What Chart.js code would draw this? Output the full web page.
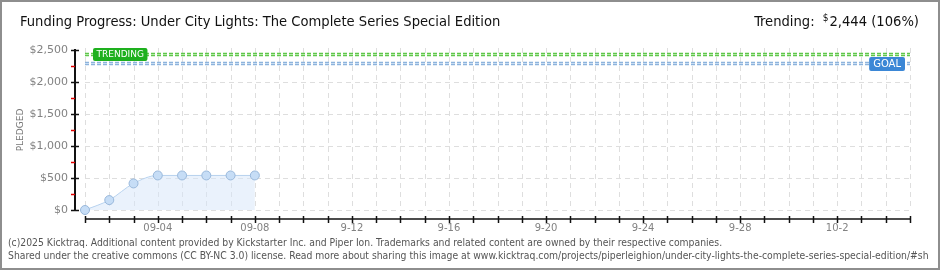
<!DOCTYPE html>
<html>
<head>
<meta charset="utf-8">
<script src="https://cdn.jsdelivr.net/npm/chart.js@4.4.1/dist/chart.umd.min.js"></script>
<style>
  html, body { margin: 0; padding: 0; background: #fff; }
  #wrap { position: relative; width: 940px; height: 270px; overflow: hidden; background: #fff; }
  #chart { position: absolute; left: 0; top: 0; }
  #frame { position: absolute; left: 0; top: 0; width: 940px; height: 270px; box-sizing: border-box;
           border: 2px solid #8e8e8e; pointer-events: none; }
  .head { position: absolute; top: 12px; font: 14.6px "DejaVu Sans Condensed", "DejaVu Sans", sans-serif;
          color: #111; white-space: nowrap; }
  #title { left: 20px; }
  #trend { right: 21px; }
  #trend sup { font-size: 10px; vertical-align: 5px; margin: 0 1px 0 4px; }
  .foot { position: absolute; left: 8px; font: 10.3px "DejaVu Sans Condensed", "DejaVu Sans", sans-serif;
          color: #555; white-space: nowrap; }
</style>
</head>
<body>
<div id="wrap">
  <canvas id="chart" width="940" height="270"></canvas>
  <div class="head" id="title">Funding Progress: Under City Lights: The Complete Series Special Edition</div>
  <div class="head" id="trend">Trending: <sup>$</sup>2,444 (106%)</div>
  <div class="foot" style="top:236px">(c)2025 Kicktraq. Additional content provided by Kickstarter Inc. and Piper Ion. Trademarks and related content are owned by their respective companies.</div>
  <div class="foot" style="top:249px">Shared under the creative commons (CC BY-NC 3.0) license. Read more about sharing this image at www.kicktraq.com/projects/piperleighion/under-city-lights-the-complete-series-special-edition/#sh</div>
  <div id="frame"></div>
</div>
<script>
// Campaign days (index 0 = 09-01), last day on the axis is 10-05
const totalDays = 34;
// Pledged totals per day, from 09-01 to 09-08
const pledged = [0, 155, 415, 540, 540, 540, 540, 540];
// Labelled day ticks
const labelDays = [3, 7, 11, 15, 19, 23, 27, 31];
const labelText = ['09-04', '09-08', '9-12', '9-16', '9-20', '9-24', '9-28', '10-2'];
// Reference lines
const goal = 2300;
const trending = 2444;
const yMax = 2500;

const greyText = '#828282';

function roundRect(ctx, x, y, w, h, r) {
  ctx.beginPath();
  ctx.moveTo(x + r, y);
  ctx.lineTo(x + w - r, y);
  ctx.quadraticCurveTo(x + w, y, x + w, y + r);
  ctx.lineTo(x + w, y + h - r);
  ctx.quadraticCurveTo(x + w, y + h, x + w - r, y + h);
  ctx.lineTo(x + r, y + h);
  ctx.quadraticCurveTo(x, y + h, x, y + h - r);
  ctx.lineTo(x, y + r);
  ctx.quadraticCurveTo(x, y, x + r, y);
  ctx.closePath();
}

function dashedRef(ctx, x1, x2, py, outer, inner) {
  ctx.save();
  ctx.setLineDash([4, 2]);
  ctx.lineWidth = 3.5;
  ctx.strokeStyle = outer;
  ctx.beginPath(); ctx.moveTo(x1, py); ctx.lineTo(x2, py); ctx.stroke();
  ctx.lineWidth = 1.2;
  ctx.strokeStyle = inner;
  ctx.beginPath(); ctx.moveTo(x1, py); ctx.lineTo(x2, py); ctx.stroke();
  ctx.restore();
}

// Grid, axis lines and tick marks drawn from the chart's scales
const axesPlugin = {
  id: 'axes',
  beforeDatasetsDraw(chart) {
    const { ctx, chartArea: a, scales: { x, y } } = chart;
    const x0 = x.getPixelForValue(0);
    ctx.save();
    ctx.lineWidth = 1;
    ctx.strokeStyle = '#dedede';
    ctx.setLineDash([5, 4]);
    for (let d = 0; d <= totalDays; d++) {
      const px = Math.round(x.getPixelForValue(d)) + 0.5;
      ctx.beginPath(); ctx.moveTo(px, a.top - 2); ctx.lineTo(px, a.bottom); ctx.stroke();
    }
    for (let v = 0; v < yMax; v += 500) {
      const py = Math.round(y.getPixelForValue(v)) + 0.5;
      ctx.beginPath(); ctx.moveTo(x0, py); ctx.lineTo(a.right, py); ctx.stroke();
    }
    ctx.setLineDash([]);

    // y axis
    ctx.strokeStyle = '#111';
    ctx.lineWidth = 2;
    ctx.beginPath(); ctx.moveTo(a.left, a.top - 1); ctx.lineTo(a.left, a.bottom + 1); ctx.stroke();
    for (let v = 0; v <= yMax; v += 250) {
      const py = Math.round(y.getPixelForValue(v)) + 0.5;
      const major = v % 500 === 0;
      ctx.strokeStyle = major ? '#111' : '#e00000';
      ctx.lineWidth = 1.5;
      ctx.beginPath(); ctx.moveTo(a.left - 4, py); ctx.lineTo(major ? a.left + 4 : a.left, py); ctx.stroke();
    }

    // x axis
    const axY = a.bottom + 9;
    ctx.strokeStyle = '#111';
    ctx.lineWidth = 1.5;
    ctx.beginPath(); ctx.moveTo(x0, axY); ctx.lineTo(a.right, axY); ctx.stroke();
    for (let d = 0; d <= totalDays; d++) {
      const px = Math.round(x.getPixelForValue(d)) + 0.5;
      ctx.beginPath(); ctx.moveTo(px, axY - 3); ctx.lineTo(px, axY + 4); ctx.stroke();
    }

    // y axis title
    ctx.save();
    ctx.translate(21, (a.top + a.bottom) / 2);
    ctx.rotate(-Math.PI / 2);
    ctx.fillStyle = '#777';
    ctx.font = '9px "DejaVu Sans", sans-serif';
    ctx.textAlign = 'center';
    ctx.textBaseline = 'middle';
    ctx.fillText('PLEDGED', 0, 0);
    ctx.restore();
    ctx.restore();
  },
  afterDraw(chart) {
    const { ctx, chartArea: a, scales: { x, y } } = chart;
    const x0 = x.getPixelForValue(0);
    const ty = Math.round(y.getPixelForValue(trending)) + 0.5;
    const gy = Math.round(y.getPixelForValue(goal)) + 0.5;
    dashedRef(ctx, x0, a.right, ty, '#5fc64c', '#b4eaa6');
    dashedRef(ctx, x0, a.right, gy, '#8db3dc', '#c9ddf2');

    ctx.save();
    ctx.textBaseline = 'middle';
    ctx.textAlign = 'left';
    // TRENDING tag
    ctx.font = '9px "DejaVu Sans", sans-serif';
    const tw = ctx.measureText('TRENDING').width + 7;
    ctx.fillStyle = '#1eb01e';
    roundRect(ctx, x0 + 8, ty - 6.5, tw, 13, 2); ctx.fill();
    ctx.fillStyle = '#fff';
    ctx.fillText('TRENDING', x0 + 11.5, ty + 0.5);
    // GOAL tag
    ctx.font = '10px "DejaVu Sans", sans-serif';
    const gw = ctx.measureText('GOAL').width + 8;
    ctx.fillStyle = '#3b87d6';
    roundRect(ctx, a.right - 5 - gw, gy - 6.5, gw, 14, 2); ctx.fill();
    ctx.fillStyle = '#fff';
    ctx.fillText('GOAL', a.right - 1 - gw, gy + 1);
    ctx.restore();
  }
};

const points = pledged.map((v, i) => ({ x: i, y: v }));

new Chart(document.getElementById('chart'), {
  type: 'line',
  data: {
    datasets: [{
      data: points,
      borderColor: '#b7d2ef',
      borderWidth: 1,
      backgroundColor: 'rgba(214,230,249,0.5)',
      fill: 'origin',
      cubicInterpolationMode: 'monotone',
      pointRadius: 4.5,
      pointBackgroundColor: '#c6ddf6',
      pointBorderColor: '#98b7da',
      pointBorderWidth: 1,
      clip: false
    }]
  },
  options: {
    responsive: false,
    animation: false,
    events: [],
    layout: { padding: { left: 0, top: 50, right: 30, bottom: 0 } },
    plugins: { legend: { display: false }, tooltip: { enabled: false }, title: { display: false } },
    scales: {
      x: {
        type: 'linear',
        min: -10 / (825 / totalDays),
        max: totalDays,
        grid: { display: false, drawTicks: false },
        border: { display: false },
        afterBuildTicks(scale) {
          scale.ticks = [];
          for (let d = 0; d <= totalDays; d++) scale.ticks.push({ value: d });
        },
        afterFit(scale) { scale.height = 60; },
        ticks: {
          autoSkip: false,
          maxRotation: 0,
          padding: 12,
          color: greyText,
          font: { family: '"DejaVu Sans", sans-serif', size: 10 },
          callback(v) {
            const k = labelDays.indexOf(v);
            return k >= 0 ? labelText[k] : '';
          }
        }
      },
      y: {
        min: 0,
        max: yMax,
        grid: { display: false, drawTicks: false },
        border: { display: false },
        afterFit(scale) { scale.width = 75; },
        ticks: {
          stepSize: 500,
          padding: 7,
          color: greyText,
          font: { family: '"DejaVu Sans", sans-serif', size: 11 },
          callback(v) { return '$' + v.toLocaleString('en-US'); }
        }
      }
    }
  },
  plugins: [axesPlugin]
});
</script>
</body>
</html>
